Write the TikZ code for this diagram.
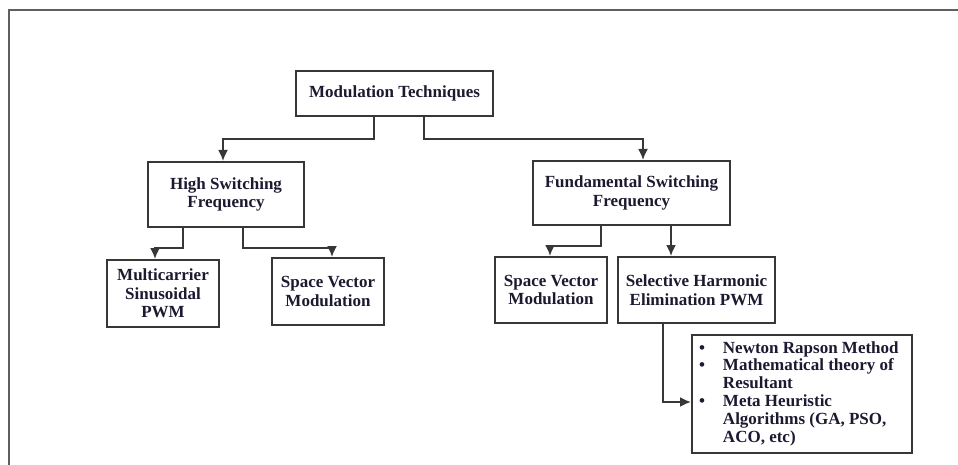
\documentclass[tikz,border=0pt]{standalone}
\usepackage{fontspec}
\setmainfont{Liberation Serif}
\usetikzlibrary{arrows.meta}
\definecolor{linegray}{RGB}{55,55,55}
\definecolor{framegray}{RGB}{95,95,95}
\definecolor{textnavy}{RGB}{28,26,48}
\tikzset{
  box/.style={draw=linegray, line width=2pt, fill=white, inner sep=0pt, align=center,
    font=\fontsize{17}{18.5}\selectfont\bfseries, text=textnavy},
  arr/.style={draw=linegray, line width=1.8pt, -{Latex[length=11pt,width=10pt]}},
}

\begin{document}
\begin{tikzpicture}[x=1pt,y=-1pt]
		\useasboundingbox (0,0) rectangle (958,465);
		\draw [framegray, line width=2pt] (9,465) -- (9,10) -- (958,10);
		% boxes
		\node [box, minimum width=197pt, minimum height=45pt] (mod) at (394.5,93.5) {Modulation Techniques};
		\node [box, minimum width=156pt, minimum height=65pt] (hsf) at (226,194.5) {High Switching\\Frequency};
		\node [box, minimum width=197pt, minimum height=64pt] (fsf) at (631.5,193) {Fundamental Switching\\Frequency};
		\node [box, minimum width=112pt, minimum height=67pt] (mcs) at (163,293.5) {Multicarrier\\Sinusoidal\\PWM};
		\node [box, minimum width=112pt, minimum height=67pt] (svmh) at (328,291.5) {Space Vector\\Modulation};
		\node [box, minimum width=112pt, minimum height=66pt] (svmf) at (551,290) {Space Vector\\Modulation};
		\node [box, minimum width=157pt, minimum height=66pt] (she) at (696.5,290) {Selective Harmonic\\Elimination PWM};
		\node [box, minimum width=220pt, minimum height=118pt, font=\fontsize{17}{17.8}\selectfont\bfseries] (meth) at (802,394) {%
			\begin{tabular}{@{}l@{\hspace{18pt}}p{182pt}@{}}
				\textbullet & Newton Rapson Method\\
				\textbullet & Mathematical theory of\\
				 & Resultant\\
				\textbullet & Meta Heuristic\\
				 & Algorithms (GA, PSO,\\
				 & ACO, etc)
			\end{tabular}};
		% connectors
		\draw [arr] ([xshift=-20.5pt]mod.south) -- ++(0,22) -| ([xshift=-3pt]hsf.north);
		\draw [arr] ([xshift=29.5pt]mod.south) -- ++(0,22) -| ([xshift=11.5pt]fsf.north);
		\draw [arr] ([xshift=-43pt]hsf.south) -- ++(0,20) -| ([xshift=-8pt]mcs.north);
		\draw [arr] ([xshift=17pt]hsf.south) -- ++(0,20) -| ([xshift=4pt]svmh.north);
		\draw [arr] ([xshift=-30.5pt]fsf.south) -- ++(0,20) -| ([xshift=-1pt]svmf.north);
		\draw [arr] ([xshift=39.5pt]fsf.south) -- ([xshift=-25.5pt]she.north);
		\draw [arr] ([xshift=-33.5pt]she.south) |- ([yshift=-8pt]meth.west);
\end{tikzpicture}
\end{document}
